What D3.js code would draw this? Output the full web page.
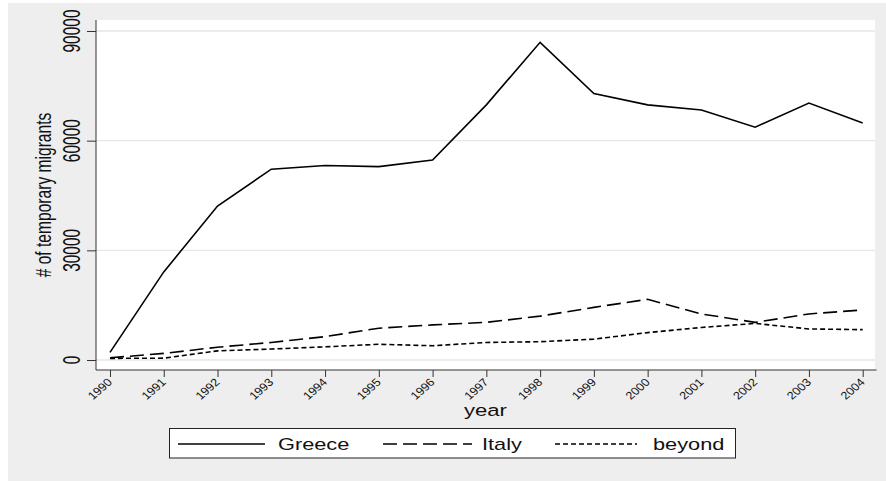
<!DOCTYPE html>
<html lang="en">
<head>
  <meta charset="UTF-8">
  <title>Temporary migrants by destination</title>
  <script src="https://d3js.org/d3.v7.min.js"></script>
  <style>
    html, body { margin: 0; padding: 0; background: #ffffff; }
    svg { display: block; font-family: "Liberation Sans", Arial, sans-serif; }
  </style>
</head>
<body>
  <svg id="chart" width="886" height="481"></svg>
  <script>
    // data
    const years = [1990, 1991, 1992, 1993, 1994, 1995, 1996, 1997, 1998, 1999, 2000, 2001, 2002, 2003, 2004];
    const greece = [2100, 24100, 42100, 52200, 53200, 52900, 54700, 69800, 86900, 72900, 69800, 68400, 63700, 70300, 64800];
    const italy  = [600, 1800, 3500, 4800, 6400, 8700, 9600, 10300, 12000, 14400, 16600, 12600, 10300, 12600, 13700];
    const beyond = [450, 500, 2500, 3000, 3600, 4300, 3900, 4800, 5000, 5700, 7500, 8900, 10000, 8500, 8300];
    const yTicks = [0, 30000, 60000, 90000];

    const seriesNames = ["Greece", "Italy", "beyond"];
    const seriesDash = ["none", "14,6", "5,3"];
    const seriesValues = [greece, italy, beyond];

    const svg = d3.select("#chart");

    // outer graph region (Stata grey)
    svg.append("rect")
      .attr("x", 8).attr("y", 3)
      .attr("width", 878).attr("height", 478)
      .attr("fill", "#eeeeee");

    // plot region
    const plot = { left: 96, right: 875, top: 20, bottom: 370 };
    svg.append("rect")
      .attr("x", plot.left).attr("y", plot.top)
      .attr("width", plot.right - plot.left).attr("height", plot.bottom - plot.top)
      .attr("fill", "#ffffff");

    const x = d3.scaleLinear().domain([1990, 2004]).range([110, 862.7]);
    const y = d3.scaleLinear().domain([0, 90000]).range([360, 31]);

    // grid lines
    svg.append("g")
      .selectAll("line")
      .data(yTicks)
      .enter().append("line")
      .attr("x1", plot.left).attr("x2", plot.right)
      .attr("y1", d => y(d)).attr("y2", d => y(d))
      .attr("stroke", "#e6e6e6")
      .attr("stroke-width", 1.3);

    // y axis
    const yAxis = svg.append("g")
      .attr("transform", `translate(${plot.left},0)`)
      .call(d3.axisLeft(y).tickValues(yTicks).tickSize(9).tickFormat(d3.format("d")));
    yAxis.select(".domain").attr("d", `M0,${plot.top}V${plot.bottom}`).attr("stroke", "#333");
    yAxis.selectAll(".tick line").attr("stroke", "#333");
    yAxis.selectAll(".tick text").remove();

    svg.append("g")
      .selectAll("text")
      .data(yTicks)
      .enter().append("text")
      .attr("transform", d => `translate(80,${y(d)}) scale(1.55,1) rotate(-90)`)
      .attr("text-anchor", "middle")
      .attr("font-size", "15.5px")
      .attr("fill", "#111")
      .text(d => d);

    // x axis
    const xAxis = svg.append("g")
      .attr("transform", `translate(0,${plot.bottom})`)
      .call(d3.axisBottom(x).tickValues(years).tickSize(7).tickFormat(d3.format("d")));
    xAxis.select(".domain").attr("d", `M${plot.left},0H876.5`).attr("stroke", "#333");
    xAxis.selectAll(".tick line").attr("stroke", "#333");
    xAxis.selectAll(".tick text").remove();

    svg.append("g")
      .selectAll("text")
      .data(years)
      .enter().append("text")
      .attr("transform", d => `translate(${x(d) + 3},383) scale(1.15,1) rotate(-45)`)
      .attr("text-anchor", "end")
      .attr("font-size", "11px")
      .attr("fill", "#111")
      .text(d => d);

    // axis titles
    svg.append("text")
      .attr("transform", `translate(${(plot.left + plot.right) / 2},416) scale(1.3,1)`)
      .attr("text-anchor", "middle")
      .attr("font-size", "17px")
      .attr("fill", "#111")
      .text("year");

    svg.append("text")
      .attr("transform", `translate(51,${(plot.top + plot.bottom) / 2}) scale(1.4,1) rotate(-90)`)
      .attr("text-anchor", "middle")
      .attr("font-size", "15.6px")
      .attr("fill", "#111")
      .text("# of temporary migrants");

    // series lines
    const line = d3.line()
      .x((d, i) => x(years[i]))
      .y(d => y(d));

    svg.append("g")
      .selectAll("path")
      .data(seriesValues)
      .enter().append("path")
      .attr("d", line)
      .attr("fill", "none")
      .attr("stroke", "#000")
      .attr("stroke-width", 1.6)
      .attr("stroke-dasharray", (d, i) => seriesDash[i]);

    // legend
    svg.append("rect")
      .attr("x", 169.5).attr("y", 428.5)
      .attr("width", 566).attr("height", 29.5)
      .attr("fill", "#ffffff")
      .attr("stroke", "#222")
      .attr("stroke-width", 1);

    const legendItems = [
      { x1: 178, x2: 265, tx: 278 },
      { x1: 383, x2: 472, tx: 482 },
      { x1: 555, x2: 637, tx: 653 }
    ];

    const legend = svg.append("g");
    legend.selectAll("line")
      .data(legendItems)
      .enter().append("line")
      .attr("x1", d => d.x1).attr("x2", d => d.x2)
      .attr("y1", 444).attr("y2", 444)
      .attr("stroke", "#000")
      .attr("stroke-width", 1.6)
      .attr("stroke-dasharray", (d, i) => seriesDash[i]);

    legend.selectAll("text")
      .data(legendItems)
      .enter().append("text")
      .attr("transform", d => `translate(${d.tx},450) scale(1.28,1)`)
      .attr("font-size", "17px")
      .attr("fill", "#111")
      .text((d, i) => seriesNames[i]);
  </script>
</body>
</html>
